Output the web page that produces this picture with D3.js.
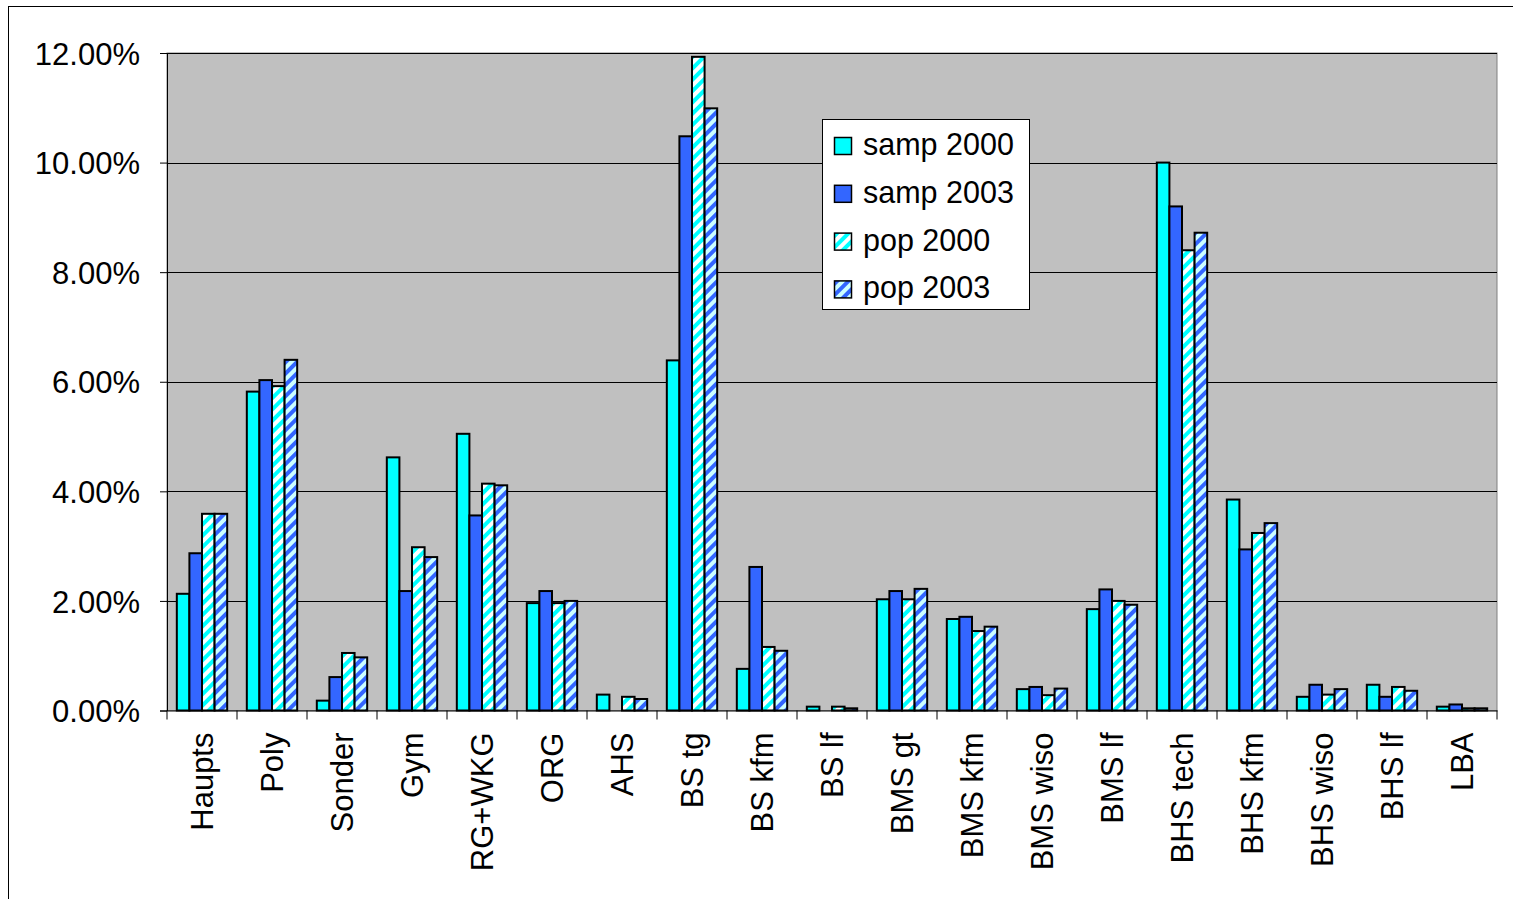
<!DOCTYPE html>
<html>
<head>
<meta charset="utf-8">
<script src="https://cdn.jsdelivr.net/npm/d3@7"></script>
<style>
  html, body { margin: 0; padding: 0; background: #fff; }
  svg { display: block; }
  text { font-family: "Liberation Sans", Arial, sans-serif; fill: #000; }
</style>
</head>
<body>
<svg id="chart" width="1513" height="899"></svg>
<script>
// School types (categories along the x axis)
const categories = ["Haupts", "Poly", "Sonder", "Gym", "RG+WKG", "ORG", "AHS", "BS tg", "BS kfm", "BS lf",
  "BMS gt", "BMS kfm", "BMS wiso", "BMS lf", "BHS tech", "BHS kfm", "BHS wiso", "BHS lf", "LBA"];

// Shares in percent for each series
const samp2000 = [2.13, 5.82, 0.18, 4.62, 5.05, 1.96, 0.29, 6.39, 0.76, 0.07, 2.03, 1.67, 0.39, 1.85, 10.00, 3.85, 0.25, 0.47, 0.07];
const samp2003 = [2.87, 6.03, 0.61, 2.18, 3.56, 2.18, 0.00, 10.48, 2.62, 0.00, 2.18, 1.71, 0.43, 2.21, 9.20, 2.94, 0.47, 0.25, 0.11];
const pop2000  = [3.59, 5.92, 1.05, 2.98, 4.14, 1.96, 0.25, 11.93, 1.16, 0.07, 2.03, 1.45, 0.28, 2.00, 8.40, 3.24, 0.29, 0.43, 0.04];
const pop2003  = [3.59, 6.40, 0.97, 2.80, 4.11, 2.00, 0.21, 10.99, 1.09, 0.04, 2.22, 1.53, 0.40, 1.93, 8.72, 3.42, 0.39, 0.36, 0.04];

const seriesNames = ["samp 2000", "samp 2003", "pop 2000", "pop 2003"];
const yTicks = [0, 2, 4, 6, 8, 10, 12];

const series = [
  { name: seriesNames[0], values: samp2000, fill: "#00FFFF" },
  { name: seriesNames[1], values: samp2003, fill: "#3366FF" },
  { name: seriesNames[2], values: pop2000,  fill: "url(#hatchCyan)" },
  { name: seriesNames[3], values: pop2003,  fill: "url(#hatchBlue)" }
];

const svg = d3.select("#chart");

// Hatch patterns for the population series
const defs = svg.append("defs");
function hatch(id, bg, fg) {
  const p = defs.append("pattern")
    .attr("id", id)
    .attr("patternUnits", "userSpaceOnUse")
    .attr("width", 8).attr("height", 8)
    .attr("patternTransform", "rotate(45)");
  p.append("rect").attr("width", 8).attr("height", 8).attr("fill", bg);
  p.append("rect").attr("width", 4).attr("height", 8).attr("fill", fg);
}
hatch("hatchCyan", "#FFFFFF", "#00FFFF");
hatch("hatchBlue", "#CCFFFF", "#3366FF");

// Outer chart frame
svg.append("rect")
  .attr("x", 8.5).attr("y", 6.5)
  .attr("width", 1520).attr("height", 910)
  .attr("fill", "none").attr("stroke", "#000").attr("stroke-width", 1);

const plot = { left: 167, right: 1497, top: 53, bottom: 710.5 };

const x = d3.scaleBand().domain(categories).range([plot.left, plot.right]).paddingInner(0).paddingOuter(0);
const xs = d3.scaleBand().domain(d3.range(series.length))
  .range([0, x.bandwidth()]).paddingInner(0).paddingOuter(0.78);
const y = d3.scaleLinear().domain([0, 12]).range([plot.bottom, plot.top]);

// Plot background
svg.append("rect")
  .attr("x", plot.left).attr("y", plot.top)
  .attr("width", plot.right - plot.left).attr("height", plot.bottom - plot.top)
  .attr("fill", "#C0C0C0").attr("stroke", "#808080").attr("stroke-width", 1);

// Horizontal gridlines
svg.append("g").selectAll("line")
  .data(yTicks.filter(d => d > 0))
  .join("line")
  .attr("x1", plot.left).attr("x2", plot.right)
  .attr("y1", d => Math.round(y(d)) + 0.5).attr("y2", d => Math.round(y(d)) + 0.5)
  .attr("stroke", "#000").attr("stroke-width", 1);

// Bars
const groups = svg.append("g").selectAll("g")
  .data(series)
  .join("g")
  .attr("fill", d => d.fill);

groups.each(function(s, si) {
  d3.select(this).selectAll("rect")
    .data(s.values.map((v, i) => ({ cat: categories[i], v })).filter(d => d.v > 0))
    .join("rect")
    .attr("x", d => x(d.cat) + xs(si))
    .attr("width", xs.bandwidth())
    .attr("y", d => y(d.v))
    .attr("height", d => y(0) - y(d.v))
    .attr("stroke", "#000")
    .attr("stroke-width", 2);
});

// Y axis
const yAxis = svg.append("g")
  .attr("transform", `translate(${plot.left},0)`)
  .call(d3.axisLeft(y).tickValues(yTicks).tickSize(7).tickPadding(0).tickFormat(d => d3.format(".2f")(d) + "%"));
yAxis.select(".domain").attr("stroke", "#000");
yAxis.selectAll(".tick line").attr("stroke", "#000");
yAxis.selectAll(".tick text")
  .attr("x", -27).attr("dy", "0.36em")
  .attr("font-size", 31)
  .attr("font-family", "Liberation Sans, Arial, sans-serif")
  .attr("text-anchor", "end");

// X axis
const xAxis = svg.append("g")
  .attr("transform", `translate(0,${plot.bottom})`)
  .call(d3.axisBottom(x).tickSize(0).tickPadding(0));
xAxis.select(".domain").attr("stroke", "#000");
xAxis.selectAll(".tick text")
  .attr("y", null).attr("dy", null)
  .attr("font-size", 31)
  .attr("font-family", "Liberation Sans, Arial, sans-serif")
  .attr("text-anchor", "end")
  .attr("dominant-baseline", "central")
  .attr("transform", "translate(0,22) rotate(-90)");

// Category boundary ticks
svg.append("g").selectAll("line")
  .data(d3.range(categories.length + 1))
  .join("line")
  .attr("x1", i => plot.left + i * x.step()).attr("x2", i => plot.left + i * x.step())
  .attr("y1", plot.bottom).attr("y2", plot.bottom + 9)
  .attr("stroke", "#000").attr("stroke-width", 1);

// Legend
const legend = svg.append("g");
legend.append("rect")
  .attr("x", 822.5).attr("y", 119.5)
  .attr("width", 207).attr("height", 190)
  .attr("fill", "#fff").attr("stroke", "#000").attr("stroke-width", 1);
const items = legend.selectAll("g.item")
  .data(series)
  .join("g")
  .attr("class", "item")
  .attr("transform", (d, i) => `translate(834.5,${137.5 + i * 47.8})`);
items.append("rect")
  .attr("width", 17).attr("height", 17)
  .attr("fill", d => d.fill)
  .attr("stroke", "#000").attr("stroke-width", 1.5);
items.append("text")
  .attr("font-size", 30.5)
  .attr("x", 28.5).attr("y", 17.5)
  .text(d => d.name);
</script>
</body>
</html>
